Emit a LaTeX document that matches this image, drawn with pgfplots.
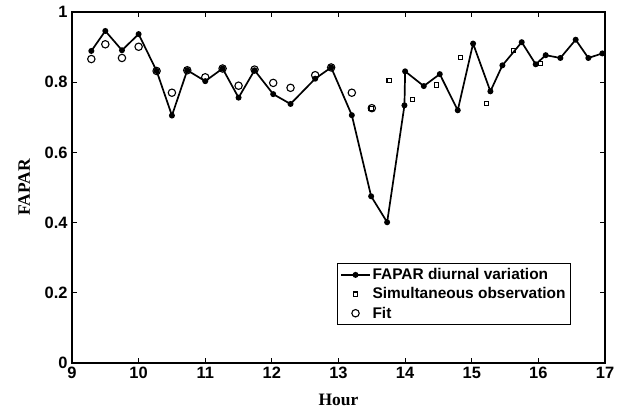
\documentclass[border=0pt]{standalone}
\usepackage{fontspec}
\setmainfont{Liberation Serif}
\setsansfont{Liberation Sans}
\usepackage{pgfplots}
\pgfplotsset{compat=1.18}
\pgfplotsset{wideleg/.style={legend image code/.code={\draw[mark repeat=2,mark phase=2,##1] plot coordinates {(0cm,0cm) (0.5cm,0cm) (1cm,0cm)};}}}
\begin{document}
\begin{tikzpicture}
\begin{axis}[name=ax, scale only axis, width=533bp, height=351bp,
  xmin=9, xmax=17, ymin=0, ymax=1,
  xtick={9,10,11,12,13,14,15,16,17},
  xticklabels={9,10,11,12,13,14,15,16,17},
  ytick={0,0.2,0.4,0.6,0.8,1},
  yticklabels={0,0.2,0.4,0.6,0.8,1},
  tick align=inside, major tick length=5bp,
  axis line style={line width=1.5bp},
  every tick/.style={line width=1.2bp, black},
  tick label style={font=\sffamily\bfseries\fontsize{16.5}{19}\selectfont},
  xticklabel style={yshift=-1bp},
  yticklabel style={xshift=-1bp},
  label style={font=\rmfamily\bfseries\fontsize{17.5}{20}\selectfont},
  xlabel={Hour}, ylabel={FAPAR},
  xlabel style={at={(axis description cs:0.5,-0.104)}, anchor=center},
  ylabel style={at={(axis description cs:-0.090,0.5)}, anchor=center},
  legend style={at={(0.497,0.285)}, anchor=north west, draw=black, line width=1.2bp,
    font=\sffamily\bfseries\fontsize{15.5}{18}\selectfont, row sep=2.5bp, inner sep=3bp},
  legend cell align=left,
]
\addplot[black, line width=1.7bp, mark=*, mark size=2.1bp, mark options={solid}, wideleg]
  coordinates {
(9.29,0.889) (9.50,0.946) (9.75,0.891) (10.00,0.937) (10.27,0.832) (10.50,0.705)
(10.73,0.834) (11.00,0.803) (11.26,0.839) (11.50,0.756) (11.74,0.834) (12.02,0.766)
(12.28,0.738) (12.65,0.810) (12.89,0.842) (13.20,0.706) (13.49,0.475) (13.73,0.401)
(13.99,0.734) (14.00,0.831) (14.28,0.789) (14.52,0.823) (14.79,0.720) (15.02,0.910)
(15.28,0.774) (15.46,0.848) (15.75,0.914) (15.96,0.851) (16.11,0.877) (16.33,0.869)
(16.56,0.921) (16.75,0.869) (16.96,0.882)
};
\addlegendentry{FAPAR diurnal variation}
\addplot[black, only marks, mark=square, mark size=2.1bp, mark options={line width=1.1bp}, wideleg]
  coordinates {
(13.49,0.726) (13.76,0.805) (14.11,0.750) (14.47,0.792) (14.83,0.871) (15.22,0.739)
(15.63,0.891) (16.03,0.853)
};
\addlegendentry{Simultaneous observation}
\addplot[black, only marks, mark=o, mark size=3.7bp, mark options={line width=1.1bp}, wideleg]
  coordinates {
(9.29,0.866) (9.50,0.908) (9.75,0.869) (10.00,0.901) (10.27,0.832) (10.50,0.770)
(10.73,0.834) (11.00,0.814) (11.26,0.839) (11.50,0.790) (11.74,0.836) (12.02,0.798)
(12.28,0.784) (12.65,0.820) (12.89,0.842) (13.20,0.770) (13.50,0.726)
};
\addlegendentry{Fit}
\end{axis}
\pgfresetboundingbox
\path ([xshift=-72bp,yshift=-48bp]ax.south west) rectangle ([xshift=19bp,yshift=12bp]ax.north east);
\end{tikzpicture}
\end{document}
